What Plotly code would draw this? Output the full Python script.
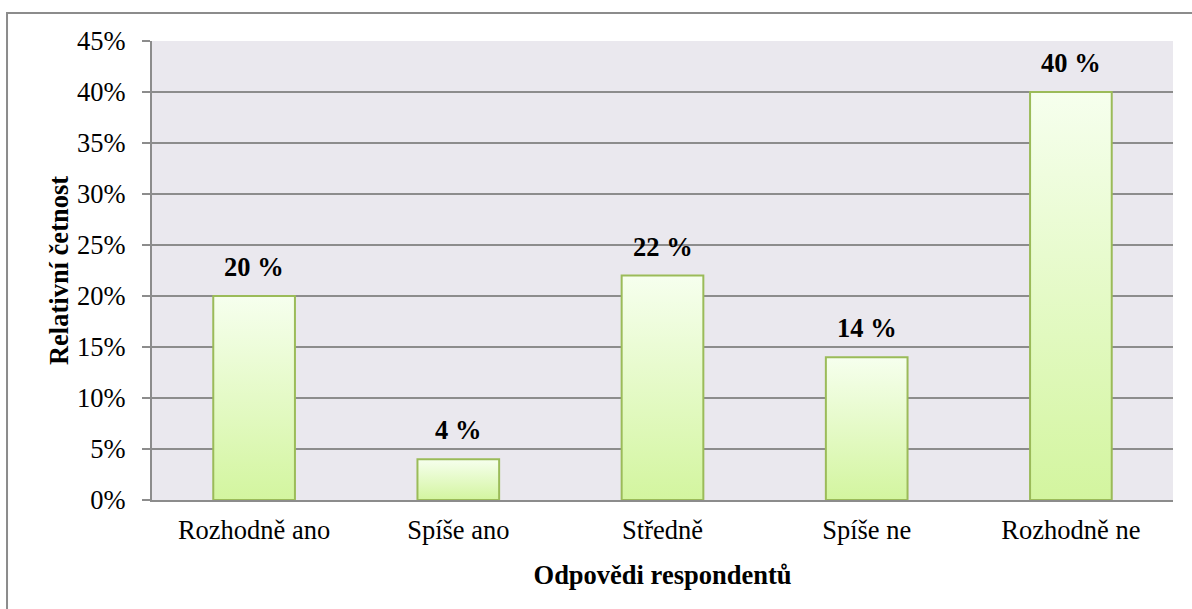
import plotly.graph_objects as go

categories = ["Rozhodně ano", "Spíše ano", "Středně", "Spíše ne", "Rozhodně ne"]
values = [0.20, 0.04, 0.22, 0.14, 0.40]
labels = ["20 %", "4 %", "22 %", "14 %", "40 %"]
y_ticks = [0, 0.05, 0.10, 0.15, 0.20, 0.25, 0.30, 0.35, 0.40, 0.45]

FONT = "Liberation Serif, Times New Roman, serif"
FS = 26.5
BAR_HALF = 0.2
BORDER = "#9BBB59"
GRID = "#8C8C8C"

fig = go.Figure()
for i, (cat, v) in enumerate(zip(categories, values)):
    xs = [i - BAR_HALF, i + BAR_HALF, i + BAR_HALF, i - BAR_HALF, i - BAR_HALF]
    ys = [0, 0, v, v, 0]
    fig.add_trace(go.Scatter(
        x=xs, y=ys, mode="lines", fill="toself",
        line=dict(color=BORDER, width=2),
        fillgradient=dict(type="vertical",
                          colorscale=[[0, "#D3F59F"], [1, "#F6FFEE"]],
                          start=0, stop=v),
        name=cat, showlegend=False, hoverinfo="skip",
    ))

for i, (v, t) in enumerate(zip(values, labels)):
    fig.add_annotation(x=i, y=v, text=t, showarrow=False, yanchor="bottom",
                       yshift=12, font=dict(family=FONT, size=FS, color="black",
                                            weight="bold"))

fig.add_shape(type="rect", xref="paper", yref="paper",
              x0=-0.142, x1=1.2, y0=-0.4, y1=1.061,
              line=dict(color="#8C8C8C", width=2), fillcolor="rgba(0,0,0,0)",
              layer="below")

fig.update_layout(
    width=1192, height=609,
    margin=dict(l=152, r=19, t=41, b=109),
    paper_bgcolor="white",
    plot_bgcolor="#EAE8EE",
    font=dict(family=FONT, size=FS, color="black"),
    xaxis=dict(
        range=[-0.5, 4.5], tickmode="array", tickvals=list(range(len(categories))),
        ticktext=categories, showgrid=False, zeroline=False,
        showline=True, linecolor=GRID, linewidth=2, ticks="",
        tickfont=dict(family=FONT, size=FS), ticklabelstandoff=5,
        title=dict(text="Odpovědi respondentů",
                   font=dict(family=FONT, size=FS, weight="bold"), standoff=22),
        fixedrange=True,
    ),
    yaxis=dict(
        range=[0, 0.45], tickmode="array", tickvals=y_ticks, tickformat=".0%",
        showgrid=True, gridcolor=GRID, gridwidth=2, zeroline=False,
        showline=True, linecolor=GRID, linewidth=2,
        ticks="outside", ticklen=8, tickcolor=GRID, tickwidth=2,
        tickfont=dict(family=FONT, size=FS), ticklabelstandoff=11,
        title=dict(text="Relativní četnost",
                   font=dict(family=FONT, size=FS, weight="bold"), standoff=1),
        fixedrange=True,
    ),
)

fig.write_html("out.html", config={"displayModeBar": False},
               post_script="document.body.style.margin='0px';")
